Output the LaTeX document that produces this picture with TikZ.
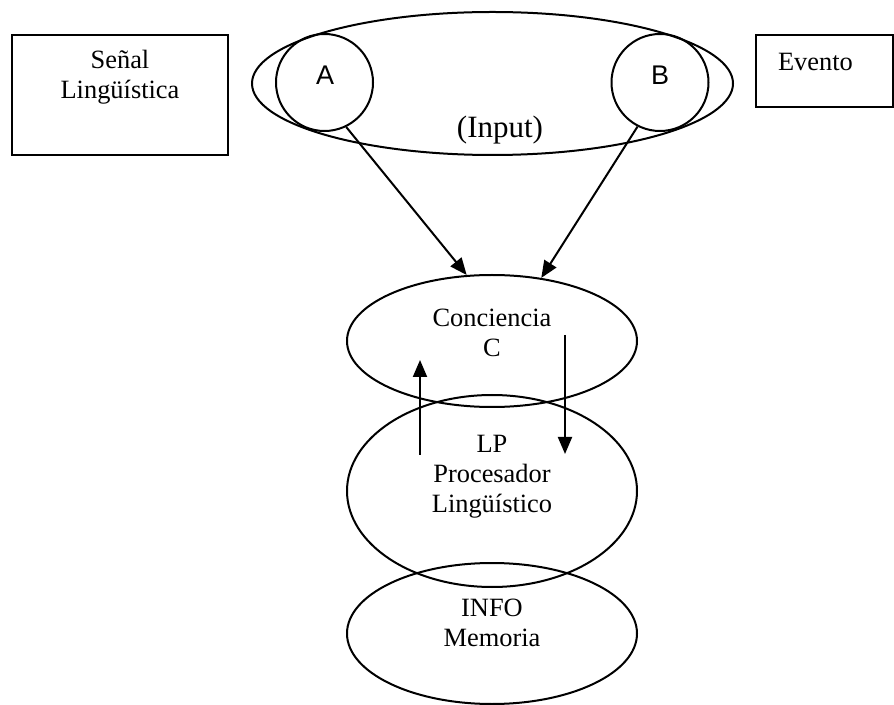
\documentclass[tikz,border=0pt]{standalone}
\usepackage{fontspec}
\setmainfont{Liberation Serif}
\newfontfamily\abfont{Liberation Sans}
\usetikzlibrary{shapes.geometric, arrows.meta}

\begin{document}
\begin{tikzpicture}[x=0.5pt, y=-0.5pt, line width=1pt,
        font=\fontsize{13.2}{15}\selectfont]
        \tikzset{
            elip/.style={ellipse, draw, inner sep=0pt},
            caja/.style={rectangle, draw, inner sep=0pt},
            rot/.style={align=center, inner sep=0pt},
            flecha/.style={-{Triangle[length=8.5pt,width=7pt]}}
        }
        \useasboundingbox (0,0) rectangle (894,705);

        % Input: the two signals
        \node[caja, minimum width=108pt, minimum height=60pt] (senalbox) at (120,95) {};
        \node[rot] (senal) at (120,77) {Señal\\Lingüística};
        \node[caja, minimum width=68.5pt, minimum height=36pt] (eventobox) at (824.5,71) {};
        \node[rot, anchor=west] (evento) at (777,62) {Evento};

        \node[elip, minimum width=240.5pt, minimum height=71.5pt] (input) at (492.5,83.5) {};
        \node[elip, minimum width=48.5pt, minimum height=48.5pt] (cA) at (324.5,82.5) {};
        \node[elip, minimum width=48.5pt, minimum height=48.5pt] (cB) at (660,82.5) {};
        \node[rot, font=\abfont\fontsize{13.5}{15}\selectfont] (a) at (325,75) {A};
        \node[rot, font=\abfont\fontsize{13.5}{15}\selectfont] (b) at (660,75) {B};
        \node[rot, font=\fontsize{15.5}{18}\selectfont] (inputtxt) at (500,130) {(Input)};

        % Conciencia, procesador y memoria
        \node[elip, minimum width=145pt, minimum height=66pt] (conc) at (492,341) {};
        \node[elip, minimum width=145pt, minimum height=96pt] (lp) at (492,491) {};
        \node[elip, minimum width=145pt, minimum height=70.5pt] (info) at (492,633.5) {};
        \node[rot] (conctxt) at (492,333) {Conciencia\\C};
        \node[rot] (lptxt) at (492,477) {LP\\Procesador\\Lingüístico};
        \node[rot] (infotxt) at (492,623) {INFO\\Memoria};

        \coordinate (upS) at (420,455);
        \coordinate (upE) at (420,360);
        \coordinate (dnS) at (565,335);
        \coordinate (dnE) at (565,454);

        \draw[flecha] (cA.-64) -- (conc.111);
        \draw[flecha] (cB.-117) -- (conc.52);
        \draw[flecha] (upS) -- (upE);
        \draw[flecha] (dnS) -- (dnE);
    \end{tikzpicture}
\end{document}
